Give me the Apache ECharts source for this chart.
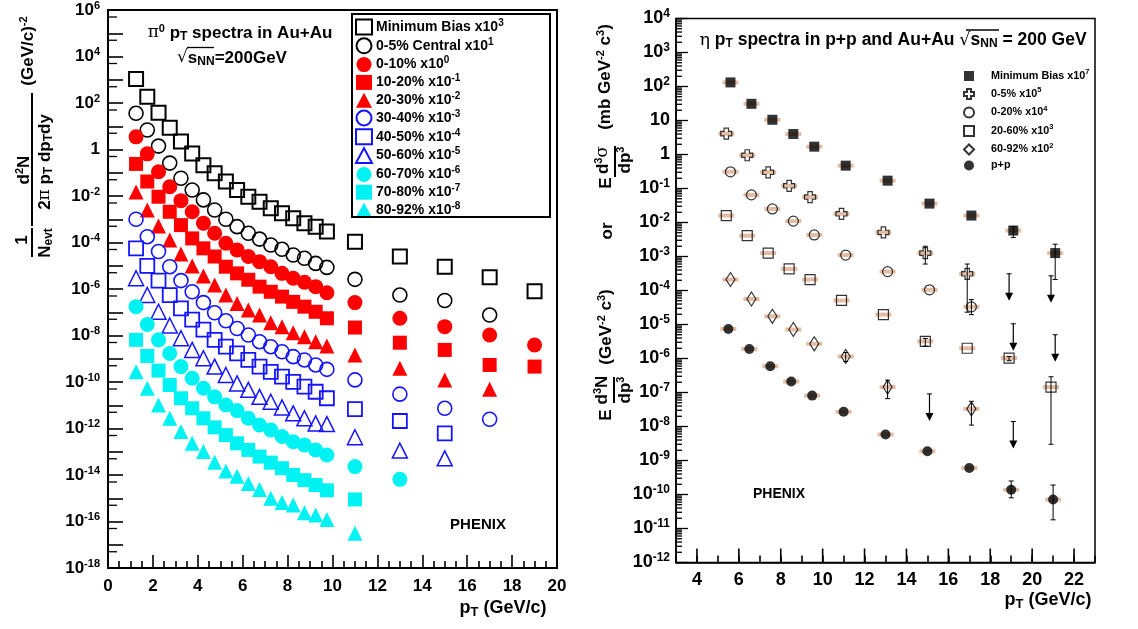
<!DOCTYPE html>
<html><head><meta charset="utf-8">
<script src="https://cdn.jsdelivr.net/npm/echarts@6/dist/echarts.min.js"></script>
<style>html,body{margin:0;padding:0;background:#fff}#c{width:1138px;height:629px}</style>
</head><body><div id="c"></div>
<script>
// ---------------- LEFT PANEL DATA (pi0, Au+Au) ----------------
const PT_LEFT = [1.25,1.75,2.25,2.75,3.25,3.75,4.25,4.75,5.25,5.75,6.25,6.75,7.25,7.75,8.25,8.75,9.25,9.75,11,13,15,17,19];
const pi0_MB    = [1.07e3,186,38,8.7,2.2,0.68,0.21,0.095,0.042,0.018,9.3e-3,5.6e-3,3.0e-3,1.8e-3,1.1e-3,6.8e-4,4.8e-4,3.0e-4,1.07e-4,2.5e-5,9.1e-6,3.2e-6,8.1e-7];
const pi0_c0_5  = [36,6.9,1.4,0.26,0.058,0.018,6.8e-3,2.5e-3,1.0e-3,4.8e-4,2.5e-4,1.4e-4,7.8e-5,5.1e-5,2.9e-5,2.1e-5,1.26e-5,8.5e-6,2.6e-6,5.5e-7,3.2e-7,7.6e-8];
const pi0_c0_10 = [3.5,0.65,0.11,0.025,6.3e-3,2.1e-3,6.8e-4,2.5e-4,9.3e-5,4.8e-5,2.5e-5,1.5e-5,9.1e-6,4.7e-6,2.9e-6,1.95e-6,1.26e-6,6.9e-7,2.6e-7,5.5e-8,2.4e-8,1.05e-8,3.9e-9];
const pi0_c10_20= [0.24,0.042,9.3e-3,2.1e-3,5.6e-4,1.5e-4,5.6e-5,2.5e-5,9.1e-6,4.7e-6,2.5e-6,1.26e-6,7.6e-7,4.7e-7,2.8e-7,1.74e-7,1.05e-7,5.5e-8,2.2e-8,4.9e-9,2.4e-9,5.4e-10,4.6e-10];
const pi0_c20_30= [0.0148,2.5e-3,5.1e-4,1.29e-4,3.2e-5,9.8e-6,3.6e-6,1.48e-6,5.5e-7,2.4e-7,1.26e-7,7.6e-8,3.5e-8,2.4e-8,1.32e-8,8.9e-9,5.4e-9,3.5e-9,1.45e-9,3.9e-10,1.23e-10,4.9e-11];
const pi0_c30_40= [1.0e-3,1.78e-4,4.1e-5,9.1e-6,2.3e-6,7.6e-7,2.6e-7,9.5e-8,4.3e-8,2.0e-8,1.05e-8,5.4e-9,3.3e-9,2.0e-9,1.23e-9,8.9e-10,5.4e-10,3.5e-10,1.23e-10,3.0e-11,7.4e-12,2.5e-12];
const pi0_c40_50= [5.6e-5,9.8e-6,2.3e-6,5.5e-7,1.48e-7,4.8e-8,1.8e-8,6.5e-9,3.3e-9,1.7e-9,8.9e-10,4.6e-10,2.75e-10,1.7e-10,1.02e-10,6.3e-11,3.8e-11,2.0e-11,6.8e-12,2.1e-12,6.2e-13];
const pi0_c50_60= [2.9e-6,5.5e-7,1.05e-7,2.7e-8,7.6e-9,2.4e-9,1.05e-9,4.6e-10,2.0e-10,8.7e-11,4.6e-11,2.3e-11,1.41e-11,8.1e-12,4.5e-12,2.75e-12,1.66e-12,1.55e-12,4.2e-13,1.12e-13,5.2e-14];
const pi0_c60_70= [1.74e-7,3.0e-8,6.5e-9,1.7e-9,4.6e-10,1.45e-10,5.4e-11,2.3e-11,1.02e-11,5.9e-12,2.75e-12,1.41e-12,8.7e-13,4.5e-13,2.7e-13,1.95e-13,1.2e-13,7.2e-14,2.3e-14,6.5e-15];
const pi0_c70_80= [6.5e-9,1.32e-9,3.1e-10,7.4e-11,2.0e-11,7.4e-12,2.75e-12,1.12e-12,5.2e-13,2.3e-13,1.2e-13,6.2e-14,3.4e-14,1.95e-14,1.0e-14,6.0e-15,3.7e-15,2.2e-15,8.9e-16];
const pi0_c80_92= [2.75e-10,5.4e-11,1.02e-11,2.75e-12,7.4e-13,2.3e-13,1.02e-13,3.5e-14,1.5e-14,8.9e-15,4.3e-15,2.4e-15,1.0e-15,6.5e-16,5.1e-16,2.4e-16,1.9e-16,1.23e-16,3.1e-17];
const LEFT_LABELS = ['Minimum Bias x10{s|3}','0-5% Central x10{s|1}','0-10% x10{s|0}','10-20% x10{s|-1}','20-30% x10{s|-2}','30-40% x10{s|-3}','40-50% x10{s|-4}','50-60% x10{s|-5}','60-70% x10{s|-6}','70-80% x10{s|-7}','80-92% x10{s|-8}'];

// ---------------- RIGHT PANEL DATA (eta) ----------------
const eta_MB_x = [5.6,6.6,7.6,8.6,9.6,11.1,13.1,15.1,17.1,19.1,21.1];
const eta_MB_y = [132,31,10.5,4.0,1.7,0.47,0.17,0.036,0.016,0.0058,0.00126];
const eta_MB_err = [[19.1,0.0036,0.0076],[21.1,0.00021,0.0023]];
const eta_c05_x = [5.4,6.4,7.4,8.4,9.4,10.9,12.9,14.9,16.9];
const eta_c05_y = [4.1,0.95,0.30,0.12,0.056,0.018,0.0051,0.00126,0.00031];
const eta_c05_err = [[14.9,0.0006,0.002],[16.9,2.3e-5,0.0006]];
const eta_c05_ul = [[18.9,3.1e-4],[20.9,2.7e-4]];
const eta_c020_x = [5.6,6.6,7.6,8.6,9.6,11.1,13.1,15.1,17.1];
const eta_c020_y = [0.31,0.065,0.025,0.011,0.0043,0.0011,3.6e-4,1.05e-4,3.3e-5];
const eta_c020_err = [[17.1,1.95e-5,5.4e-5]];
const eta_c020_ul = [[19.1,1.05e-5],[21.1,5.0e-6]];
const eta_c2060_x = [5.4,6.4,7.4,8.4,9.4,10.9,12.9,14.9,16.9,18.9,20.9];
const eta_c2060_y = [0.016,0.0041,0.00126,4.3e-4,2.1e-4,5.1e-5,1.95e-5,3.2e-6,2.0e-6,1.03e-6,1.44e-7];
const eta_c2060_err = [[14.9,2.3e-6,3.9e-6],[18.9,8.6e-7,1.15e-6],[20.9,3e-9,2.9e-7]];
const eta_c6092_x = [5.6,6.6,7.6,8.6,9.6,11.1,13.1,17.1];
const eta_c6092_y = [2.1e-4,5.6e-5,1.74e-5,7.1e-6,2.7e-6,1.15e-6,1.44e-7,3.3e-8];
const eta_c6092_err = [[11.1,8.2e-7,1.5e-6],[13.1,6.6e-8,2.3e-7],[17.1,1.1e-8,5.5e-8]];
const eta_c6092_ul = [[15.1,9.1e-8],[19.1,1.4e-8]];
const eta_pp_x = [5.5,6.5,7.5,8.5,9.5,11,13,15,17,19,21];
const eta_pp_y = [7.4e-6,1.9e-6,5.9e-7,2.1e-7,8.1e-8,2.7e-8,5.8e-9,1.86e-9,6.0e-10,1.38e-10,7.1e-11];
const eta_pp_err = [[19,8e-11,2.5e-10],[21,1.8e-11,1.9e-10]];
const RIGHT_LABELS = ['Minimum Bias x10{s|7}','0-5% x10{s|5}','0-20% x10{s|4}','20-60% x10{s|3}','60-92% x10{s|2}','p+p'];

// ---------------- helpers ----------------
const FONT = '"Liberation Sans", Arial, Helvetica, sans-serif';
const SYMF = '"DejaVu Serif", serif';
const series = [];
const leftDefs = [
  [pi0_MB,'rect','#000',false,14,2],[pi0_c0_5,'circle','#000',false,14,1.6],
  [pi0_c0_10,'circle','#ff0000',true,15],[pi0_c10_20,'rect','#ff0000',true,14],[pi0_c20_30,'triangle','#ff0000',true,15],
  [pi0_c30_40,'circle','#1414ff',false,14,1.6],[pi0_c40_50,'rect','#1414ff',false,14,1.8],[pi0_c50_60,'triangle','#1414ff',false,15,1.5],
  [pi0_c60_70,'circle','#00f2f2',true,15],[pi0_c70_80,'rect','#00f2f2',true,14],[pi0_c80_92,'triangle','#00f2f2',true,15]
];
const leftNames = [];
leftDefs.forEach((d,k)=>{
  const name = 'L'+k; leftNames.push(name);
  series.push({type:'scatter', name, xAxisIndex:0, yAxisIndex:0, symbol:d[1], symbolSize:d[4], z:3,
    data: d[0].map((v,i)=>[PT_LEFT[i], v]),
    itemStyle: d[3] ? {color:d[2], opacity:1} : {color:'rgba(255,255,255,0)', borderColor:d[2], borderWidth:d[5], opacity:1},
    emphasis:{disabled:true}, silent:true});
});
const CROSS = 'path://M3,0H7V3H10V7H7V10H3V7H0V3H3Z';
const rightDefs = [
  [eta_MB_x,eta_MB_y,'rect',true,10],[eta_c05_x,eta_c05_y,CROSS,false,11],[eta_c020_x,eta_c020_y,'circle',false,10],
  [eta_c2060_x,eta_c2060_y,'rect',false,10],[eta_c6092_x,eta_c6092_y,'diamond',false,[9,14]],[eta_pp_x,eta_pp_y,'circle',true,10]
];
const rightNames = [];
rightDefs.forEach((d,k)=>{
  const data = d[0].map((x,i)=>[x, d[1][i]]);
  series.push({type:'scatter', name:'band'+k, xAxisIndex:1, yAxisIndex:1, symbol:'rect', symbolSize:[16,4], z:1,
    data, itemStyle:{color:'#dcab8c'}, emphasis:{disabled:true}, silent:true});
  const name = 'R'+k; rightNames.push(name);
  series.push({type:'scatter', name, xAxisIndex:1, yAxisIndex:1, symbol:d[2], symbolSize:d[4], z:4,
    data, itemStyle: d[3] ? {color:'#000'} : {color:'rgba(255,255,255,0)', borderColor:'#000', borderWidth:1.2},
    emphasis:{disabled:true}, silent:true});
});
function errRender(params, api){
  const x=api.value(0), a=api.coord([x, api.value(2)]), b=api.coord([x, api.value(1)]);
  const st={stroke:'#000', lineWidth:1};
  return {type:'group', children:[
    {type:'line', shape:{x1:a[0],y1:a[1],x2:b[0],y2:b[1]}, style:st},
    {type:'line', shape:{x1:a[0]-2.5,y1:a[1],x2:a[0]+2.5,y2:a[1]}, style:st},
    {type:'line', shape:{x1:b[0]-2.5,y1:b[1],x2:b[0]+2.5,y2:b[1]}, style:st}]};
}
[eta_MB_err,eta_c05_err,eta_c020_err,eta_c2060_err,eta_c6092_err,eta_pp_err].forEach(e=>{
  series.push({type:'custom', xAxisIndex:1, yAxisIndex:1, z:2, silent:true, renderItem:errRender,
    encode:{x:0, y:[1,2]}, data:e});
});
function arrowRender(params, api){
  const p=api.coord([api.value(0), api.value(1)]);
  return {type:'group', children:[
    {type:'line', shape:{x1:p[0],y1:p[1],x2:p[0],y2:p[1]+20}, style:{stroke:'#000', lineWidth:1.2}},
    {type:'line', shape:{x1:p[0]-2.5,y1:p[1],x2:p[0]+2.5,y2:p[1]}, style:{stroke:'#000', lineWidth:1}},
    {type:'polygon', shape:{points:[[p[0]-4,p[1]+19],[p[0]+4,p[1]+19],[p[0],p[1]+27]]}, style:{fill:'#000'}}]};
}
[eta_c05_ul,eta_c020_ul,eta_c6092_ul].forEach(u=>{
  series.push({type:'custom', xAxisIndex:1, yAxisIndex:1, z:2, silent:true, renderItem:arrowRender,
    encode:{x:0, y:1}, data:u});
});
// tick decorations
function tickRender(params, api){
  const p=api.coord([api.value(0), api.value(1)]), len=api.value(2), dir=api.value(3);
  const shape = dir===0 ? {x1:p[0],y1:p[1],x2:p[0],y2:p[1]-len} : {x1:p[0],y1:p[1],x2:p[0]+len,y2:p[1]};
  return {type:'line', shape, style:{stroke:'#000', lineWidth:dir===0?1.6:1.3}};
}
const leftYMinor = []; for(let n=-18;n<=5;n++) leftYMinor.push([0, 5*Math.pow(10,n), 9, 1]);
const rightYMinor = []; for(let n=-12;n<=3;n++) for(let k=2;k<=9;k++) rightYMinor.push([3, k*Math.pow(10,n), 6, 1]);
const rightXMajor = []; for(let x=4;x<=22;x+=2) rightXMajor.push([x, 1e-12, 14, 0]);
series.push({type:'custom', xAxisIndex:0, yAxisIndex:0, z:5, silent:true, renderItem:tickRender, encode:{x:0,y:1}, data:leftYMinor});
series.push({type:'custom', xAxisIndex:1, yAxisIndex:1, z:5, silent:true, renderItem:tickRender, encode:{x:0,y:1}, data:rightYMinor.concat(rightXMajor)});

function expOf(v){ return Math.round(Math.log10(v)); }
const lab = (bs, ss) => ({b:{fontSize:bs, fontWeight:'bold', fontFamily:FONT, color:'#000'},
                          s:{fontSize:ss, fontWeight:'bold', fontFamily:FONT, color:'#000', padding:[0,0,Math.round(bs*0.55),0]}});
const option = {
  animation:false, backgroundColor:'#fff',
  grid:[
    {left:108, top:9, width:449, height:559, show:true, borderColor:'#000', borderWidth:2, backgroundColor:'transparent'},
    {left:676, top:18.5, width:419, height:544, show:true, borderColor:'#000', borderWidth:1.5, backgroundColor:'transparent'}
  ],
  xAxis:[
    {gridIndex:0, type:'value', min:0, max:20, interval:2, splitLine:{show:false},
     axisLine:{lineStyle:{color:'#000', width:2}}, axisTick:{inside:true, length:13, lineStyle:{color:'#000', width:1.6}},
     minorTick:{show:true, splitNumber:4, length:7, lineStyle:{color:'#000', width:1.6}},
     axisLabel:{margin:10, fontSize:17, fontWeight:'bold', fontFamily:FONT, color:'#000'}},
    {gridIndex:1, type:'value', min:3, max:23, interval:1, splitLine:{show:false},
     axisLine:{lineStyle:{color:'#000', width:1.5}}, axisTick:{inside:true, length:7, lineStyle:{color:'#000', width:1.6}},
     axisLabel:{margin:9, fontSize:18, fontWeight:'bold', fontFamily:FONT, color:'#000', formatter:v=> (v%2===0? String(v):'')}}
  ],
  yAxis:[
    {gridIndex:0, type:'log', logBase:10, min:1e-18, max:1e6, interval:1, splitLine:{show:false},
     axisLine:{lineStyle:{color:'#000', width:2}}, axisTick:{inside:true, length:15, lineStyle:{color:'#000', width:1.6}},
     axisLabel:{margin:8, formatter:v=>{const e=expOf(v); if(e%2!==0) return ''; if(e===0) return '{b|1}'; return '{b|10}{s|'+e+'}';}, rich:lab(17,11)}},
    {gridIndex:1, type:'log', logBase:10, min:1e-12, max:1e4, interval:1, splitLine:{show:false},
     axisLine:{lineStyle:{color:'#000', width:1.5}}, axisTick:{inside:true, length:12, lineStyle:{color:'#000', width:1.3}},
     axisLabel:{margin:6, formatter:v=>{const e=expOf(v); if(e===0) return '{b|1}'; if(e===1) return '{b|10}'; return '{b|10}{s|'+e+'}';}, rich:lab(18,12)}}
  ],
  legend:[
    {orient:'vertical', left:355, top:18, padding:0, itemWidth:16, itemHeight:15, itemGap:1.3, selectedMode:false,
     data:leftNames, formatter:n=>LEFT_LABELS[leftNames.indexOf(n)],
     textStyle:{fontSize:14, fontWeight:'bold', fontFamily:FONT, color:'#000', padding:[0,0,0,-1],
       rich:{s:{fontSize:10, fontWeight:'bold', fontFamily:FONT, color:'#000', padding:[0,0,8,0]}}}},
    {orient:'vertical', left:963, top:68, padding:0, itemWidth:10, itemHeight:10, itemGap:4.5, selectedMode:false,
     data:rightNames, formatter:n=>RIGHT_LABELS[rightNames.indexOf(n)],
     textStyle:{fontSize:10.8, fontWeight:'bold', fontFamily:FONT, color:'#000', padding:[0,0,0,12],
       rich:{s:{fontSize:7.5, fontWeight:'bold', fontFamily:FONT, color:'#000', padding:[0,0,8,0]}}}}
  ],
  graphic:[],
  series
};
const R = Math.PI/2;
const T = (x,y,text,fs,rich,rot,align) => ({type:'text', x, y, rotation:rot||0, silent:true, z:10,
  style:{text, fontSize:fs, fontWeight:'bold', fontFamily:FONT, fill:'#000', align:align||'center', verticalAlign:'middle', rich:rich||{}}});
const L = (x1,y1,x2,y2,w) => ({type:'line', silent:true, z:10, shape:{x1,y1,x2,y2}, style:{stroke:'#000', lineWidth:w||2}});
const rich = (fs) => ({
  sup:{fontSize:Math.round(fs*0.65), fontWeight:'bold', fontFamily:FONT, fill:'#000', padding:[0,0,Math.round(fs*0.5),0]},
  sub:{fontSize:Math.round(fs*0.7), fontWeight:'bold', fontFamily:FONT, fill:'#000', padding:[Math.round(fs*0.45),0,0,0]},
  g:{fontSize:fs, fontWeight:'normal', fontFamily:SYMF, fill:'#000'},
  gs:{fontSize:Math.round(fs*0.65), fontWeight:'normal', fontFamily:SYMF, fill:'#000', padding:[0,0,Math.round(fs*0.5),0]}
});
option.graphic = [
  // legend box
  {type:'rect', silent:true, z:10, shape:{x:352, y:14, width:198, height:203}, style:{fill:'none', stroke:'#000', lineWidth:2}},
  // left title
  T(240,33,'{g|π}{sup|0} p{sub|T} spectra in Au+Au',17,rich(17)),
  T(232,58,'{g|√}s{sub|NN}=200GeV',17,rich(17)),
  L(187,47.5,214,47.5,1.3),
  // left y title
  T(22,240,'1',17,rich(17),R),
  L(32,228,32,257,2),
  T(45,243,'N{sub|evt}',17,rich(17),R),
  T(24,170,'d{sup|2}N',17,rich(17),R),
  L(32,93,32,226,2),
  T(45,162,'2{g|π} p{sub|T} dp{sub|T}dy',17,rich(17),R),
  T(28,51,'(GeV/c){sup|-2}',17,rich(17),R),
  // left x title
  T(503,608,'p{sub|T} (GeV/c)',18,rich(18)),
  T(478,525,'PHENIX',15,{}),
  // right title
  T(893,40,'{g|η} p{sub|T} spectra in p+p and Au+Au {g|√}s{sub|NN} = 200 GeV',17.5,rich(17.5)),
  L(966,30,999,30,1.3),
  // right y title
  T(605,77,'(mb GeV{sup|-2} c{sup|3})',17,rich(17),R),
  T(606,183,'E',17,{},R),
  T(603,160,'d{sup|3}{g|σ}',17,rich(17),R),
  L(615,146,615,177,2),
  T(625,160,'dp{sup|3}',17,rich(17),R),
  T(607,231,'or',17,{},R),
  T(606,327,'(GeV{sup|-2} c{sup|3})',17,rich(17),R),
  T(606,415,'E',17,{},R),
  T(602,390,'d{sup|3}N',17,rich(17),R),
  L(614,377,614,403,2),
  T(625,390,'dp{sup|3}',17,rich(17),R),
  // right x title
  T(1048,600,'p{sub|T} (GeV/c)',18,rich(18)),
  T(779,494,'PHENIX',14,{})
];
const chart = echarts.init(document.getElementById('c'), null, {renderer:'canvas'});
chart.setOption(option);
</script></body></html>
